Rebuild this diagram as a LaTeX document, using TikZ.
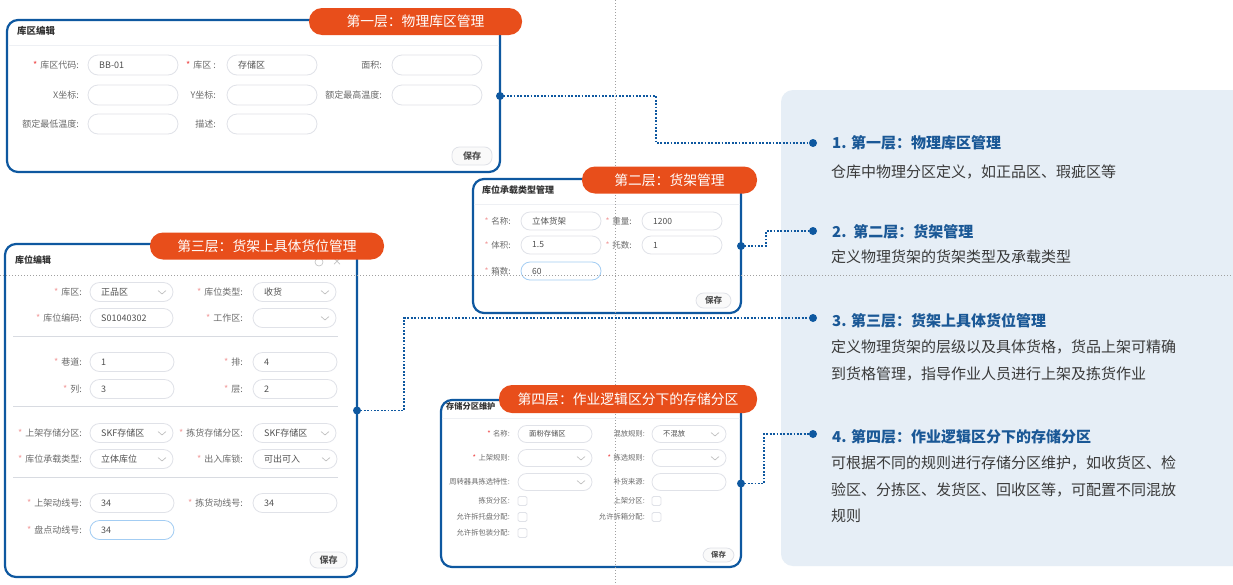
\documentclass[tikz,border=0pt]{standalone}
\usepackage{fontspec}
\setmainfont{Noto Sans CJK SC}
\usetikzlibrary{calc}
\definecolor{pblue}{HTML}{0E58A0}
\definecolor{orng}{HTML}{E84E1B}
\definecolor{bgb}{HTML}{E6EEF6}
\definecolor{hblue}{HTML}{1A5896}
\definecolor{btxt}{HTML}{3A3A3A}
\definecolor{flbl}{HTML}{6A6A6A}
\definecolor{fvl}{HTML}{505050}
\definecolor{fbd}{HTML}{E0E2E8}
\definecolor{hil}{HTML}{A3CDF3}
\definecolor{req}{HTML}{EE4040}
\definecolor{reqp}{HTML}{F29A9A}
\definecolor{guide}{HTML}{A0A0A0}
\definecolor{sepc}{HTML}{D8DBE1}
\definecolor{hsepc}{HTML}{EEF0F4}
\newcommand\myff{\fontsize{8.5}{10}\selectfont}
\newcommand\myhh{9.5}
\newcommand\myrc{req}
\newcommand\myfield[6][fbx]{%
  \draw[#1] (#3,#4-\myhh) rectangle (#3+#5,#4+\myhh);
  \node[fv,anchor=west] (#2) at (#3+11,#4) {#6};}
\newcommand\mydrop[6][fbx]{%
  \myfield[#1]{#2}{#3}{#4}{#5}{#6}%
  \draw[chev] (#3+#5-15,#4-1.5) -- (#3+#5-11,#4+2) -- (#3+#5-7,#4-1.5);}
\newcommand\mylab[4]{\node[fl,anchor=east] (#1) at (#2,#3) {#4};}
\newcommand\myreq[4]{\node[fl,anchor=east] (#1) at (#2,#3) {\textcolor{\myrc}{*}\,\,#4};}
\newcommand\mycheck[3]{\node[chk] (#1) at (#2,#3) {};}
\newcommand\mysave[5]{%
  \draw[savebox] (#2,#3) rectangle (#4,#5);
  \node[fv,font=\myff\bfseries] (#1) at ({(#2+#4)/2},{(#3+#5)/2}) {保存};}
\tikzset{
 fbx/.style={draw=fbd,line width=0.8pt,rounded corners=\myhh pt,fill=white},
 hbx/.style={fbx,draw=hil},
 fv/.style={font=\myff,text=fvl,inner sep=0pt},
 fl/.style={font=\myff,text=flbl,inner sep=0pt},
 chev/.style={draw=gray!55,line width=0.6pt},
 chk/.style={draw=fbd,line width=0.8pt,minimum size=9pt,inner sep=0pt,rounded corners=1.5pt},
 savebox/.style={draw=fbd,fill=gray!4,line width=0.8pt,rounded corners=7.5pt},
 panel/.style={draw=pblue,line width=2.2pt,rounded corners=11pt,fill=white,outer sep=0pt,anchor=north west},
 ttl/.style={font=\fontsize{9.5}{11}\selectfont\bfseries,text=black!80,anchor=west,inner sep=0pt},
 tag/.style={fill=orng,text=white,rounded corners=13pt,font=\fontsize{13.8}{16}\selectfont,inner sep=0pt,minimum height=27pt},
 conn/.style={draw=pblue,line width=1.8pt,dash pattern=on 1.8pt off 1.6pt},
 gline/.style={draw=guide,line width=0.6pt,dash pattern=on 1pt off 2pt},
 hsep/.style={draw=hsepc,line width=0.8pt},
 psep/.style={draw=sepc,line width=1pt},
 dot/.style={circle,fill=pblue,minimum size=8pt,inner sep=0pt},
 hd/.style={font=\fontsize{15}{18}\selectfont\bfseries,text=hblue,anchor=west,inner sep=0pt},
 bd/.style={font=\fontsize{15}{18}\selectfont,text=btxt,anchor=west,inner sep=0pt},
}
\begin{document}
\begin{tikzpicture}[x=1pt,y=-1pt]
\useasboundingbox[fill=white] (0,0) rectangle (1233,584);
% right background panel
\fill[bgb,rounded corners=12pt] (781,90) rectangle (1265,566);
% ---------- Panel 1
\node[panel,minimum width=493pt,minimum height=152pt] (P1) at (7,20) {};
\renewcommand\myff{\fontsize{9}{10}\selectfont}\renewcommand\myhh{10}\renewcommand\myrc{req}
\node[ttl] (P1t) at (17,31) {库区编辑};
\draw[hsep] (8,45) -- (499,45);
\myreq{P1l1}{79}{65}{库区代码:}
\myfield{P1f1}{88}{65}{90}{BB-01}
\myreq{P1l2}{216}{65}{库区 :}
\myfield{P1f2}{227}{65}{90}{存储区}
\mylab{P1l3}{382}{65}{面积:}
\myfield{P1f3}{392}{65}{90}{}
\mylab{P1l4}{79}{95}{X坐标:}
\myfield{P1f4}{88}{95}{90}{}
\mylab{P1l5}{216}{95}{Y坐标:}
\myfield{P1f5}{227}{95}{90}{}
\mylab{P1l6}{382}{95}{额定最高温度:}
\myfield{P1f6}{392}{95}{90}{}
\mylab{P1l7}{79}{124}{额定最低温度:}
\myfield{P1f7}{88}{124}{90}{}
\mylab{P1l8}{216}{124}{描述:}
\myfield{P1f8}{227}{124}{90}{}
\mysave{P1s}{452}{147}{492}{165}
% ---------- Panel 2
\node[panel,minimum width=268pt,minimum height=134pt] (P2) at (473,179) {};
\renewcommand\myff{\fontsize{8.5}{10}\selectfont}\renewcommand\myhh{9}\renewcommand\myrc{reqp}
\node[ttl,font=\fontsize{9}{11}\selectfont\bfseries] (P2t) at (482,190) {库位承载类型管理};
\draw[hsep] (474,204) -- (740,204);
\myreq{P2l1}{511}{221}{名称:}
\myfield{P2f1}{521}{221}{80}{立体货架}
\myreq{P2l2}{632}{221}{重量:}
\myfield{P2f2}{642}{221}{80}{1200}
\myreq{P2l3}{511}{245}{体积:}
\myfield{P2f3}{521}{245}{80}{1.5}
\myreq{P2l4}{632}{245}{托数:}
\myfield{P2f4}{642}{245}{80}{1}
\myreq{P2l5}{511}{271}{箱数:}
\myfield[hbx]{P2f5}{521}{271}{80}{60}
\mysave{P2s}{696}{293}{731}{308}
% ---------- Panel 3
\node[panel,minimum width=352pt,minimum height=333pt] (P3) at (5,244) {};
\renewcommand\myff{\fontsize{9}{10}\selectfont}\renewcommand\myhh{9.5}\renewcommand\myrc{reqp}
\node[ttl,font=\fontsize{9}{11}\selectfont\bfseries] (P3t) at (15,260) {库位编辑};
\node[circle,draw=gray!50,line width=0.6pt,minimum size=8pt,inner sep=0pt] (P3i) at (319,262) {};
\node[font=\fontsize{10}{10}\selectfont,text=gray!60,inner sep=0pt] (P3x) at (337,262) {×};
\myreq{P3l1}{82}{292}{库区:}
\mydrop{P3f1}{90}{292}{83}{正品区}
\myreq{P3l2}{243}{292}{库位类型:}
\mydrop{P3f2}{253}{292}{83}{收货}
\myreq{P3l3}{82}{318}{库位编码:}
\myfield{P3f3}{90}{318}{83}{S01040302}
\myreq{P3l4}{243}{318}{工作区:}
\mydrop{P3f4}{253}{318}{83}{}
\draw[psep] (13,336) -- (338,336);
\myreq{P3l5}{82}{362}{巷道:}
\myfield{P3f5}{90}{362}{84}{1}
\myreq{P3l6}{243}{362}{排:}
\myfield{P3f6}{253}{362}{84}{4}
\myreq{P3l7}{82}{389}{列:}
\myfield{P3f7}{90}{389}{84}{3}
\myreq{P3l8}{243}{389}{层:}
\myfield{P3f8}{253}{389}{84}{2}
\draw[psep] (13,406) -- (338,406);
\myreq{P3l9}{82}{433}{上架存储分区:}
\mydrop{P3f9}{90}{433}{83}{SKF存储区}
\myreq{P3l10}{243}{433}{拣货存储分区:}
\mydrop{P3f10}{253}{433}{83}{SKF存储区}
\myreq{P3l11}{82}{459}{库位承载类型:}
\mydrop{P3f11}{90}{459}{83}{立体库位}
\myreq{P3l12}{243}{459}{出入库锁:}
\mydrop{P3f12}{253}{459}{84}{可出可入}
\draw[psep] (13,477) -- (338,477);
\myreq{P3l13}{82}{503}{上架动线号:}
\myfield{P3f13}{90}{503}{84}{34}
\myreq{P3l14}{243}{503}{拣货动线号:}
\myfield{P3f14}{253}{503}{84}{34}
\myreq{P3l15}{82}{530}{盘点动线号:}
\myfield[hbx]{P3f15}{90}{530}{84}{34}
\mysave{P3s}{310}{552}{347}{568}
% ---------- Panel 4
\node[panel,minimum width=300pt,minimum height=167pt] (P4) at (441,400) {};
\renewcommand\myff{\fontsize{7.3}{8}\selectfont}\renewcommand\myhh{8.5}\renewcommand\myrc{req}
\node[ttl,font=\fontsize{8.2}{10}\selectfont\bfseries] (P4t) at (446,406) {存储分区维护};
\draw[hsep] (442,418) -- (740,418);
\myreq{P4l1}{510}{434}{名称:}
\myfield{P4f1}{518}{434}{74}{面粉存储区}
\mylab{P4l2}{645}{434}{混放规则:}
\mydrop{P4f2}{652}{434}{74}{不混放}
\myreq{P4l3}{510}{458}{上架规则:}
\mydrop{P4f3}{518}{458}{74}{}
\myreq{P4l4}{645}{458}{拣选规则:}
\mydrop{P4f4}{652}{458}{74}{}
\mylab{P4l5}{510}{482}{周转器具拣选特性:}
\mydrop{P4f5}{518}{482}{74}{}
\mylab{P4l6}{645}{482}{补货来源:}
\myfield{P4f6}{652}{482}{74}{}
\mylab{P4l7}{510}{501}{拣货分区:}
\mycheck{P4c1}{522.5}{501}
\mylab{P4l8}{645}{501}{上架分区:}
\mycheck{P4c2}{656.5}{501}
\mylab{P4l9}{510}{517}{允许拆托盘分配:}
\mycheck{P4c3}{522.5}{517}
\mylab{P4l10}{645}{517}{允许拆箱分配:}
\mycheck{P4c4}{656.5}{517}
\mylab{P4l11}{510}{533}{允许拆包装分配:}
\mycheck{P4c5}{522.5}{533}
\mysave{P4s}{703}{548}{734}{562}
% ---------- guide lines
\draw[gline] (615,0) -- (615,584);
\draw[gline] (0,275) -- (1233,275);
% ---------- connectors
\node[dot] (T1) at (813,143) {};
\node[dot] (T2) at (813,231) {};
\node[dot] (T3) at (813,318) {};
\node[dot] (T4) at (813,434) {};
\coordinate (J1) at (656,120);
\coordinate (J2) at (766,238);
\coordinate (J3) at (404,360);
\coordinate (J4) at (764,460);
\draw[conn] (P1.east) -| (J1) |- (T1);
\draw[conn] (P2.east) -| (J2) |- (T2);
\draw[conn] (P3.east) -| (J3) |- (T3);
\draw[conn] (P4.east) -| (J4) |- (T4);
\node[dot] (D1) at (P1.east) {};
\node[dot] (D2) at (P2.east) {};
\node[dot] (D3) at (P3.east) {};
\node[dot] (D4) at (P4.east) {};
% ---------- tags
\node[tag,minimum width=213pt] (G1) at (415.5,21.5) {第一层：物理库区管理};
\node[tag,minimum width=175pt] (G2) at (669.5,180) {第二层：货架管理};
\node[tag,minimum width=234pt] (G3) at (267,246) {第三层：货架上具体货位管理};
\node[tag,minimum width=258pt,minimum height=28pt] (G4) at (628,399) {第四层：作业逻辑区分下的存储分区};
% ---------- right texts
\node[hd] (H1) at (832,143) {1. 第一层：物理库区管理};
\node[bd] (B1) at (831,172) {仓库中物理分区定义，如正品区、瑕疵区等};
\node[hd] (H2) at (832,232) {2.\ \ 第二层：货架管理};
\node[bd] (B2) at (831,257) {定义物理货架的货架类型及承载类型};
\node[hd] (H3) at (832,321) {3. 第三层：货架上具体货位管理};
\node[bd] (B3a) at (831,347) {定义物理货架的层级以及具体货格，货品上架可精确};
\node[bd] (B3b) at (831,374) {到货格管理，指导作业人员进行上架及拣货作业};
\node[hd] (H4) at (832,437) {4. 第四层：作业逻辑区分下的存储分区};
\node[bd] (B4a) at (831,463) {可根据不同的规则进行存储分区维护，如收货区、检};
\node[bd] (B4b) at (831,490) {验区、分拣区、发货区、回收区等，可配置不同混放};
\node[bd] (B4c) at (831,516) {规则};
\end{tikzpicture}
\end{document}
